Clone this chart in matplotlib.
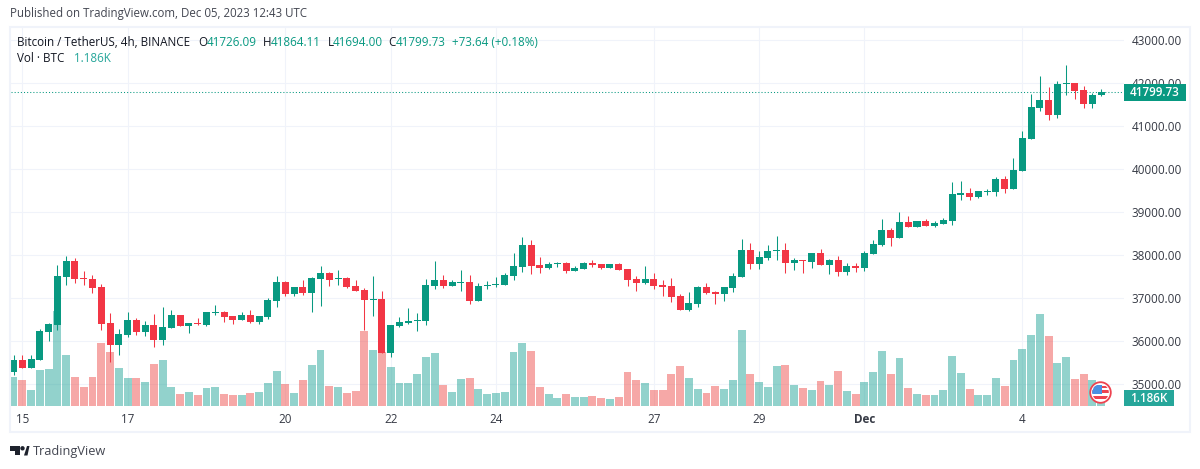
import numpy as np
import matplotlib
matplotlib.use("Agg")
import matplotlib.pyplot as plt
from matplotlib.patches import Rectangle, Circle, Polygon

plt.rcParams['font.family'] = ['Open Sans', 'DejaVu Sans']

# candles (index 0 is the 4h bar before the "15" tick)
opens = [35287,35566,35380,35566,36217,36380,37496,37868,37473,37449,37263,36426,35915,36147,36496,36217,36380,36031,36310,36612,
         36356,36426,36380,36659,36682,36589,36496,36612,36449,36566,36938,37380,37101,37263,37124,37449,37589,37449,37473,37287,
         37194,36961,36984,35728,36356,36426,36473,36473,37287,37426,37287,37356,37380,36938,37287,37310,37310,37519,37729,38240,
         37775,37705,37798,37822,37636,37682,37814,37791,37698,37791,37674,37442,37349,37442,37302,37279,37046,36721,36860,37256,
         37139,37093,37232,37488,38116,37791,37930,38093,38116,37814,37884,37837,38046,37767,37884,37605,37744,37698,38023,38240,
         38589,38403,38775,38659,38798,38682,38728,38798,39403,39449,39356,39473,39473,39775,39542,39961,40705,41426,41612,41263,
         41984,42008,41845,41519,41726.09]
highs = [35682,35682,35682,36287,36426,37775,37984,37938,37636,37542,37333,36659,36287,36682,36542,36473,36635,36798,36728,36612,
         36426,36542,36682,36845,36705,36589,36682,36728,36589,37008,37519,37403,37263,37426,37496,37752,37612,37659,37496,37426,
         37240,37519,37170,36380,36566,36775,36659,37449,37868,37542,37426,37659,37542,37356,37403,37496,37589,38054,38426,38356,
         37961,37845,37845,37845,37752,37845,37884,37791,37791,37814,37674,37512,37744,37581,37418,37465,37093,37139,37279,37349,
         37163,37256,37581,38372,38279,38093,38232,38442,38279,37930,37884,38046,38139,37907,37977,37814,37814,38093,38349,38845,
         38635,39007,38914,38798,38845,38798,38868,39705,39728,39566,39496,39542,39821,39845,40263,40891,41752,42170,41914,42054,
         42426,42008,41938,41775,41864.11]
lows = [35217,35380,35380,35566,36008,36263,37310,37356,37310,37124,36263,35519,35682,36101,36147,36124,35868,35915,36310,36356,
        36194,36380,36356,36612,36449,36403,36496,36426,36403,36519,36798,37054,37054,37077,36682,36822,37287,37310,37240,37170,
        36263,36589,35728,35635,36333,36403,36240,36380,37217,37240,37287,37170,36868,36938,37217,37263,37310,37426,37612,37566,
        37589,37682,37729,37589,37636,37682,37721,37674,37698,37651,37279,37163,37325,37209,37046,36907,36721,36698,36791,37093,
        36860,36930,37139,37488,37674,37674,37884,37884,37581,37651,37581,37698,37767,37558,37512,37535,37605,37628,38023,38217,
        38217,38403,38659,38659,38682,38659,38728,38705,39287,39287,39333,39403,39380,39449,39542,39961,40705,41356,41147,41194,
        41728,41635,41426,41426,41694.00]
closes = [35566,35380,35589,36240,36403,37519,37868,37449,37449,37240,36403,35915,36170,36496,36217,36380,36031,36333,36612,36356,
          36426,36403,36682,36682,36566,36496,36612,36449,36589,36961,37380,37101,37263,37124,37473,37589,37426,37473,37263,37170,
          36961,36984,35728,36380,36449,36473,36496,37310,37426,37287,37380,37380,36938,37287,37310,37333,37542,37752,38240,37752,
          37705,37798,37822,37636,37705,37822,37767,37698,37791,37651,37418,37349,37442,37279,37256,37023,36721,36884,37256,37116,
          37093,37256,37512,38116,37791,37953,38093,38116,37814,37884,37860,38046,37767,37884,37605,37744,37698,38046,38256,38589,
          38403,38775,38659,38798,38682,38752,38821,39426,39449,39356,39496,39496,39775,39542,39984,40728,41449,41612,41263,41984,
          42008,41821,41519,41728,41799.73]
# volume in BTC
volumes = [2838,2541,1551,3531,3630,9372,5016,2838,1848,2838,6204,5313,3729,2739,2739,2343,4125,4521,1848,1155,
           1353,1056,1749,1848,1155,1056,1056,1254,1353,2244,3432,2145,1254,2541,4026,5511,1947,1848,1254,1452,
           7392,5511,5313,3828,2244,2244,3135,4818,5214,2046,1353,2640,2739,1650,1155,1254,1353,5313,6204,5412,
           1848,1155,759,1155,858,891,990,792,693,891,3366,2574,2277,1584,1584,3168,3960,2772,1683,1287,
           1980,1683,2574,7524,3168,2376,1881,3960,4059,2079,1782,1584,2475,2079,3465,1485,1188,2376,3366,5445,
           3168,4752,1782,1188,1089,1089,1584,4950,3267,1683,1089,1089,2772,1980,4554,5643,7029,9108,6930,4257,
           4851,2673,3168,2574,1186]

price_ticks = [35000,36000,37000,38000,39000,40000,41000,42000,43000]
date_pos = [1,13,31,43,55,73,85,97,115]
date_labels = ['15','17','20','22','24','27','29','Dec','4']

UP = '#089981'
DOWN = '#f23645'
VOL_UP = '#26a69a'
VOL_DOWN = '#ef5350'
GRID = '#f0f3fa'
TXT = '#131722'
LBL = '#434651'
FS = 8.4
NUM = 8.4

W, H = 1200, 469
fig = plt.figure(figsize=(W/100, H/100), dpi=100, facecolor='white')

def rect(l, t, r, b):
    return [l/W, 1-b/H, (r-l)/W, (b-t)/H]

# three layers: grid and ticks at the back, then volume, then candles
ax = fig.add_axes(rect(11, 28, 1124, 406), zorder=1)
vax = ax.twinx()
vax.set_zorder(2)
vax.patch.set_visible(False)
cax = ax.twinx()
cax.set_zorder(3)
cax.patch.set_visible(False)

# px scale: 8.772 px per bar, 43 px per 1000 USDT, 1 px = 99 BTC
ax.set_xlim(-0.288, 126.6)
ax.set_ylim(34495, 43286)
cax.set_ylim(34495, 43286)
vax.set_ylim(0, 378*99)

x = np.arange(len(closes))
opens, highs, lows, closes = map(np.array, (opens, highs, lows, closes))
up = closes >= opens
cols = np.where(up, UP, DOWN)
vcols = np.where(up, VOL_UP, VOL_DOWN)

vax.bar(x, volumes, width=0.9, color=vcols, alpha=0.5, linewidth=0)
cax.vlines(x, lows, highs, colors=cols, linewidth=0.75, zorder=3)
cax.bar(x, np.maximum(np.abs(closes-opens), 20), bottom=np.minimum(opens, closes),
        width=0.8, color=cols, linewidth=0, zorder=4)
cax.axhline(closes[-1], color=UP, linewidth=0.75, linestyle=(0, (1, 2)), zorder=2)

ax.set_xticks(date_pos)
ax.set_xticklabels(date_labels, color='#363a45', fontsize=NUM)
ax.get_xticklabels()[7].set_fontweight('bold')
ax.yaxis.tick_right()
ax.set_yticks(price_ticks)
ax.set_yticklabels(['%d.00' % v for v in price_ticks], color='#363a45', fontsize=NUM)
ax.tick_params(axis='both', length=0)
ax.tick_params(axis='x', pad=5)
ax.tick_params(axis='y', pad=5.5)
ax.grid(True, color=GRID, linewidth=0.75)
ax.set_axisbelow(True)
vax.set_yticks([])
cax.set_yticks([])
for a in (ax, vax, cax):
    for s in a.spines.values():
        s.set_visible(False)

# overlay in pixel coordinates for frame, tags, legend, logo
ov = fig.add_axes([0, 0, 1, 1], zorder=5)
ov.set_xlim(0, W)
ov.set_ylim(H, 0)
ov.axis('off')
ov.patch.set_visible(False)

ov.add_patch(Rectangle((10, 27), 1179.5, 405.5, fill=False, edgecolor=GRID, linewidth=1.5))

ov.text(10, 14, 'Published on TradingView.com, Dec 05, 2023 12:43 UTC', color=LBL, fontsize=FS-0.1, va='center')
ov.text(17, 42, 'Bitcoin / TetherUS, 4h, BINANCE', color=TXT, fontsize=FS, va='center')
for lab, lx, val, tx in [('O', 198.5, '41726.09', 207), ('H', 262.5, '41864.11', 271),
                         ('L', 327.5, '41694.00', 333), ('C', 388.5, '41799.73', 395.5)]:
    ov.text(lx, 42, lab, color=TXT, fontsize=NUM, va='center')
    ov.text(tx, 42, val, color=UP, fontsize=NUM, va='center')
ov.text(452, 42, '+73.64 (+0.18%)', color=UP, fontsize=NUM, va='center')
ov.text(17, 59, 'Vol · BTC', color=TXT, fontsize=FS, va='center')
ov.text(74, 59, '1.186K', color='#26a69a', fontsize=NUM, va='center')

# last value tags
ov.add_patch(Rectangle((1124, 84), 62, 17, color=UP, linewidth=0))
ov.text(1155, 92.5, '41799.73', color='white', fontsize=NUM, fontweight='semibold', ha='center', va='center')
ov.add_patch(Rectangle((1124, 390), 50, 16, color='#26a69a', linewidth=0))
ov.text(1149, 398, '1.186K', color='white', fontsize=NUM, fontweight='semibold', ha='center', va='center')

# US news flag
ov.add_patch(Circle((1100.5, 392.5), 10.3, facecolor='white', edgecolor='#ee4350', linewidth=1.3))
clip = Circle((1100.5, 392.5), 8.3, transform=ov.transData)
for sy, sh in [(386.5, 1.6), (390.5, 2.6), (396.5, 2.6)]:
    ov.add_patch(Rectangle((1092, sy), 18, sh, color='#ee4350', linewidth=0, clip_path=clip))
ov.add_patch(Rectangle((1092, 385), 10, 9, color='#4a90e2', linewidth=0, clip_path=clip))

# TradingView logo
ov.add_patch(Polygon([(10, 446), (20, 446), (20, 455.5), (15, 455.5), (15, 451), (10, 451)], color='#1e222d', linewidth=0))
ov.add_patch(Circle((22.5, 448.3), 2.2, color='#1e222d', linewidth=0))
ov.add_patch(Polygon([(24, 455.5), (27, 446), (29.5, 446), (27.5, 455.5)], color='#1e222d', linewidth=0))
ov.text(33, 451.5, 'TradingView', color=LBL, fontsize=9.2, va='center')

fig.savefig('out.png', dpi=100)
